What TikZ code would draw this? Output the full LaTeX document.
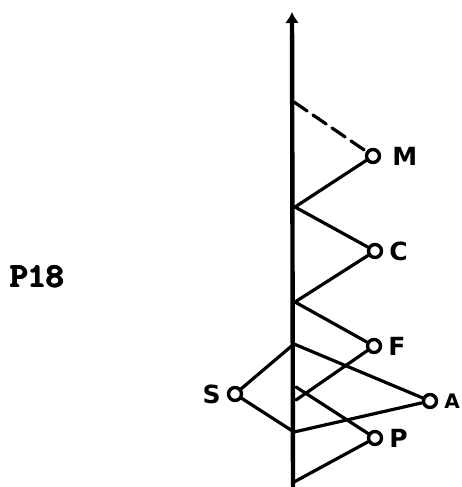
\documentclass[tikz,border=0pt]{standalone}
\usepackage{fontspec}
\usetikzlibrary{arrows.meta}
\newfontfamily\handfont{DejaVu Sans}
\newcommand\codefont{\ttfamily\bfseries}
\newcommand\heavytt[1]{\rlap{#1}\rlap{\raisebox{0.8pt}{#1}}\kern0.9pt\rlap{#1}\rlap{\raisebox{0.8pt}{#1}}\kern0.9pt#1}
\tikzset{
  site/.style={circle,draw,line width=3.4pt,inner sep=0pt,minimum size=13pt,fill=white},
  tag/.style={font=\handfont\bfseries\fontsize{25}{25}\selectfont,inner sep=0pt,label distance=6pt},
  small tag/.style={tag,font=\handfont\bfseries\fontsize{20}{20}\selectfont},
  link/.style={line width=3.2pt,line cap=round}
}
\begin{document}
\begin{tikzpicture}[x=1pt,y=-1pt]
\useasboundingbox (0,0) rectangle (462,487);
% time axis
\coordinate (top) at (292,12);
\coordinate (bot) at (293,487);
\coordinate (jm) at (294,102);
\coordinate (jc) at (295,207);
\coordinate (jf) at (295,302);
\coordinate (js) at (294,344);
\coordinate (jp) at (296,387);
\coordinate (jl) at (296,400);
\coordinate (jo) at (294,432);
\coordinate (jb) at (294,482);
% sites
\node[site,label={[tag,label distance=11pt]right:M}] (m) at (373,156) {};
\node[site,label={[tag]right:C}] (c) at (375,251) {};
\node[site,label={[tag]right:F}] (f) at (374,346) {};
\node[site,label={[small tag]right:A}] (a) at (430,401) {};
\node[site,label={[tag]right:P}] (p) at (375,438) {};
\node[site,label={[tag]left:S}] (s) at (235,394) {};
\node[font=\fontsize{34}{34}\selectfont\codefont,inner sep=0pt] (name) at (37,277) {\heavytt{P18}};
% connectors
\draw[link,dash pattern=on 16pt off 7pt] (jm) -- (m);
\draw[link] (m) -- (jc) -- (c);
\draw[link] (c) -- (jf) -- (f);
\draw[link] (f) -- (jl);
\draw[link] (js) -- (a) -- (jo);
\draw[link] (jp) -- (p) -- (jb);
\draw[link] (js) -- (s) -- (jo);
\draw[line width=4.4pt,-{Latex[length=11pt,width=14pt]}] (bot) -- (top);
\end{tikzpicture}
\end{document}
